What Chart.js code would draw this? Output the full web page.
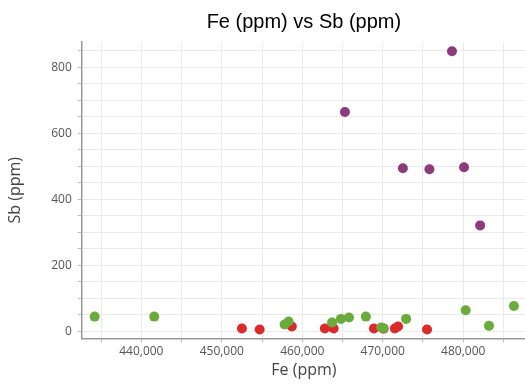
<!DOCTYPE html>
<html>
<head>
<meta charset="utf-8">
<script src="https://cdn.jsdelivr.net/npm/chart.js@4"></script>
<style>
  html, body { margin: 0; padding: 0; background: #fff; overflow: hidden; }
  #wrap { width: 531px; height: 388px; }
</style>
</head>
<body>
<div id="wrap"><canvas id="scatterChart"></canvas></div>
<script>
// Fe (ppm) on x, Sb (ppm) on y, one list per group
var highFe = [465300, 478600, 472500, 475800, 480100, 482100];
var highSb = [664, 848, 494, 491, 497, 321];

var greenFe = [434200, 441600, 457800, 458300, 463700, 464800, 465800, 467900, 469800, 470100, 472900, 480300, 483200, 486300];
var greenSb = [45, 45, 21, 30, 27, 38, 42, 45, 12, 10, 38, 64, 17, 77];

var redFe = [452500, 454700, 458700, 462800, 463900, 468900, 470100, 471500, 471900, 475500];
var redSb = [9, 6, 15, 9, 9, 9, 8, 9, 15, 6];

// gridlines every 5,000 / 50, labels only on these
var xGridTicks = [435000, 440000, 445000, 450000, 455000, 460000, 465000, 470000, 475000, 480000, 485000];
var xLabelTicks = [440000, 450000, 460000, 470000, 480000];
var yGridTicks = [0, 50, 100, 150, 200, 250, 300, 350, 400, 450, 500, 550, 600, 650, 700, 750, 800, 850];
var yLabelTicks = [0, 200, 400, 600, 800];

function toPoints(xs, ys) {
	return xs.map(function (x, i) { return { x: x, y: ys[i] }; });
}

var ctx = document.getElementById('scatterChart');
var chart = new Chart(ctx, {
	type: 'scatter',
	data: {
		datasets: [
			{ label: 'green', data: toPoints(greenFe, greenSb), backgroundColor: '#6aab3b', borderColor: '#6aab3b' },
			{ label: 'red', data: toPoints(redFe, redSb), backgroundColor: '#dc2a2c', borderColor: '#dc2a2c' },
			{ label: 'purple', data: toPoints(highFe, highSb), backgroundColor: '#8c3b7e', borderColor: '#8c3b7e' },
		],
	},
	options: {
		responsive: true,
		maintainAspectRatio: false,
		animation: false,
		elements: { point: { radius: 5, borderWidth: 0, hoverRadius: 5 } },
		layout: { padding: { left: 6, right: 0, top: 6, bottom: 8 } },
		plugins: {
			legend: { display: false },
			tooltip: { enabled: false },
			title: {
				display: true,
				text: 'Fe (ppm) vs Sb (ppm)',
				fullSize: false,
				color: '#000',
				font: { family: 'Liberation Sans, Arial', size: 20, weight: 'normal' },
				padding: { top: 4, bottom: 8 },
			},
		},
		scales: {
			x: {
				type: 'linear',
				min: 432600,
				max: 487800,
				afterBuildTicks: function (scale) {
					scale.ticks = xGridTicks.map(function (v) { return { value: v }; });
				},
				title: {
					display: true,
					text: 'Fe (ppm)',
					color: '#444',
					font: { family: 'Open Sans', size: 16 },
					padding: { top: 0, bottom: 0 },
				},
				ticks: {
					maxRotation: 0,
					autoSkip: false,
					color: '#555',
					font: { family: 'Open Sans', size: 12 },
					padding: 2,
					callback: function (v) {
						return xLabelTicks.indexOf(v) >= 0 ? v.toLocaleString('en-US') : '';
					},
				},
				grid: { color: '#ebebeb', tickLength: 4, tickColor: '#bbb' },
				border: { color: '#999', width: 1.5 },
			},
			y: {
				type: 'linear',
				min: -21,
				max: 876,
				afterBuildTicks: function (scale) {
					scale.ticks = yGridTicks.map(function (v) { return { value: v }; });
				},
				title: {
					display: true,
					text: 'Sb (ppm)',
					color: '#444',
					font: { family: 'Open Sans', size: 16 },
					padding: { top: 0, bottom: 20 },
				},
				ticks: {
					autoSkip: false,
					color: '#555',
					font: { family: 'Open Sans', size: 12 },
					padding: 6,
					callback: function (v) {
						return yLabelTicks.indexOf(v) >= 0 ? String(v) : '';
					},
				},
				grid: { color: '#ebebeb', tickLength: 4, tickColor: '#bbb' },
				border: { color: '#999', width: 1.5 },
			},
		},
	},
});
</script>
</body>
</html>
